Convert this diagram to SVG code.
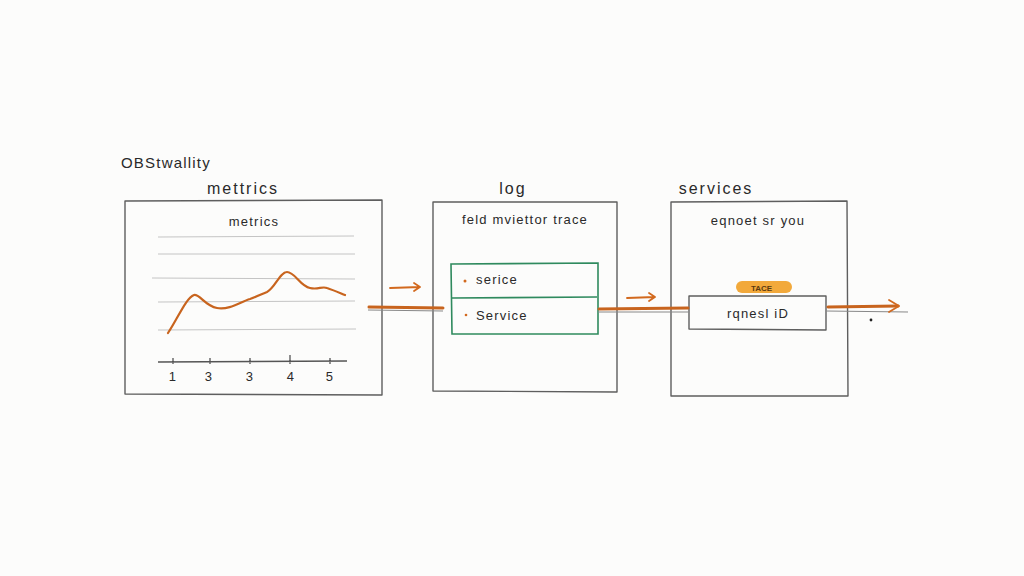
<svg xmlns="http://www.w3.org/2000/svg" width="1024" height="576" viewBox="0 0 1024 576">
<defs>
<style>
text{font-family:"Liberation Sans","DejaVu Sans",sans-serif;fill:#2a2a2a}
.frame{fill:none;stroke:#5e5e5e;stroke-width:1.4;stroke-linejoin:round}
.grid{fill:none;stroke:#c4c4c4;stroke-width:1}
.axis{fill:none;stroke:#555;stroke-width:1.3}
.curve{fill:none;stroke:#c8641e;stroke-width:2.2;stroke-linecap:round;stroke-linejoin:round}
.wire{fill:none;stroke:#c8641e;stroke-width:3;stroke-linecap:round}
.thin{fill:none;stroke:#888;stroke-width:1}
.arr{fill:none;stroke:#d2691e;stroke-width:1.8;stroke-linecap:round;stroke-linejoin:round}
.green{fill:none;stroke:#2f8a5e;stroke-width:1.6}
.lbl{font-size:16px;letter-spacing:2px}
.sub{font-size:13px;letter-spacing:1.2px}
</style>
</defs>
<rect width="1024" height="576" fill="#fcfcfb"/>
<text x="121" y="168" font-size="15" letter-spacing="1.2">OBStwallity</text>

<g id="panel-metrics">
<text class="lbl" x="243" y="194" text-anchor="middle">mettrics</text>
<path class="frame" d="M125,201 L382,200 L382,395 L125,394 Z"/>
<text class="sub" x="254" y="226" text-anchor="middle">metrics</text>
<path class="grid" d="M158,237 L354,236 M158,254 L355,254 M152,278 L355,279 M158,302 L355,301 M158,330 L356,329"/>
<path class="axis" d="M158,362 L347,361 M173,358 L173,364 M210,358 L210,364 M250,358 L250,364 M290,355 L290,364 M330,358 L330,364"/>
<g class="sub" text-anchor="middle">
<text x="173" y="381">1</text><text x="209" y="381">3</text><text x="250" y="381">3</text><text x="291" y="381">4</text><text x="330" y="381">5</text>
</g>
<path class="curve" d="M168,333 C178,318 186,298 194,295 C200,294 205,306 217,308 C230,310 240,302 250,299 C258,296 262,294 267,292 C275,288 280,272 287,272 C295,272 300,286 310,288 C318,290 322,286 327,288 C333,290 340,293 345,295"/>
</g>

<g id="panel-log">
<text class="lbl" x="513" y="194" text-anchor="middle">log</text>
<path class="frame" d="M433,202 L617,202 L617,392 L433,391 Z"/>
<text class="sub" x="525" y="224" text-anchor="middle">feld mviettor trace</text>
<path class="green" d="M451,264 L598,263 L598,334 L452,334 Z M452,298 L597,297"/>
<circle cx="465" cy="281" r="1.5" fill="#d2691e"/>
<circle cx="466" cy="315" r="1.3" fill="#d2691e"/>
<text class="sub" x="476" y="284">serice</text>
<text class="sub" x="476" y="320">Service</text>
</g>

<g id="panel-services">
<text class="lbl" x="716" y="194" text-anchor="middle">services</text>
<path class="frame" d="M671,202 L847,201 L848,396 L671,396 Z"/>
<text class="sub" x="758" y="225" text-anchor="middle">eqnoet sr you</text>
<rect x="736" y="281" width="56" height="12" rx="6" fill="#f2a93b"/>
<text x="751" y="291" font-size="8" font-weight="bold" style="fill:#5a3a10">TACE</text>
<path class="frame" d="M689,296 L826,296 L826,330 L689,329 Z"/>
<text class="sub" x="758" y="318" text-anchor="middle">rqnesl iD</text>
</g>

<g id="connectors">
<path class="arr" d="M390,288 L420,287 M414,283 L420,287 L414,291"/>
<path class="thin" d="M368,310 L443,311"/>
<path class="wire" d="M369,307 L443,308"/>
<path class="arr" d="M627,298 L655,297 M649,293 L655,297 L649,301"/>
<path class="thin" d="M598,312 L689,312"/>
<path class="wire" d="M599,309 L688,308"/>
<path class="thin" d="M826,311 L908,312"/>
<path class="wire" d="M828,307 L898,306"/>
<path class="arr" d="M889,300 L899,306 L889,312"/>
<circle cx="871" cy="320" r="1.4" fill="#222"/>
</g>
</svg>
